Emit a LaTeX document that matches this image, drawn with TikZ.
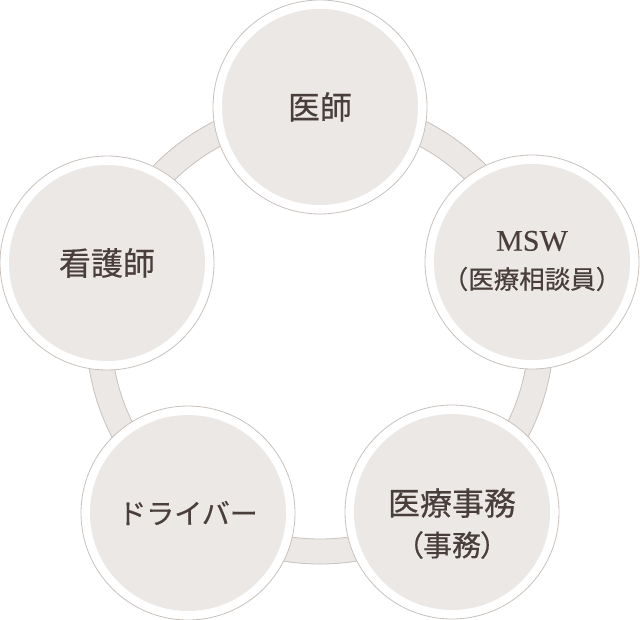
\documentclass[tikz,border=0pt]{standalone}
\usepackage{fontspec}
\newfontfamily\jp[FakeBold=0.5]{Noto Sans CJK JP}
\newfontfamily\jpp[FakeBold=0.5,RawFeature=+palt]{Noto Sans CJK JP}
\newfontfamily\lat[FakeBold=0.3]{Liberation Serif}
\definecolor{bandfill}{HTML}{EBE8E5}
\definecolor{edge}{HTML}{C9C1BC}
\definecolor{ink}{HTML}{4A3E3A}
\tikzset{
  member/.style={circle, minimum size=214pt, inner sep=0pt, fill=white, draw=edge, line width=0.8pt,
    text=ink, font=\jp, align=center,
    path picture={\fill[bandfill] (path picture bounding box.center) circle (98);}},
  caption/.style={text=ink, font=\jp, align=center, inner sep=0pt},
}
\begin{document}
\begin{tikzpicture}[x=1pt,y=-1pt]
\useasboundingbox (0,0) rectangle (640,619);
\coordinate (ctr) at (320,330);
% ring band
\fill[bandfill, even odd rule] (ctr) circle (234) (ctr) circle (209);
\draw[edge, line width=0.8pt] (ctr) circle (234);
\draw[edge, line width=0.8pt] (ctr) circle (209);
% members
\node[member, font=\jp\fontsize{32}{36}\selectfont] (doc) at (320,107) {医師};
\node[member] (msw) at (532,262) {};
\node[caption, font=\lat\fontsize{30}{34}\selectfont] (mswA) at (532,241) {MSW};
\node[caption, font=\jp\fontsize{25.5}{30}\selectfont] (mswB) at (532,279) {（医療相談員）};
\node[member] (office) at (452,512) {};
\node[caption, font=\jp\fontsize{32}{36}\selectfont] (officeA) at (452,503) {医療事務};
\node[caption, font=\jpp\fontsize{29}{32}\selectfont] (officeB) at (452,545) {（事務）};
\node[member, font=\jp\fontsize{28}{32}\selectfont] (driver) at (188,513) {ドライバー};
\node[member, font=\jp\fontsize{32}{36}\selectfont] (nurse) at (107,263) {看護師};
\end{tikzpicture}
\end{document}
